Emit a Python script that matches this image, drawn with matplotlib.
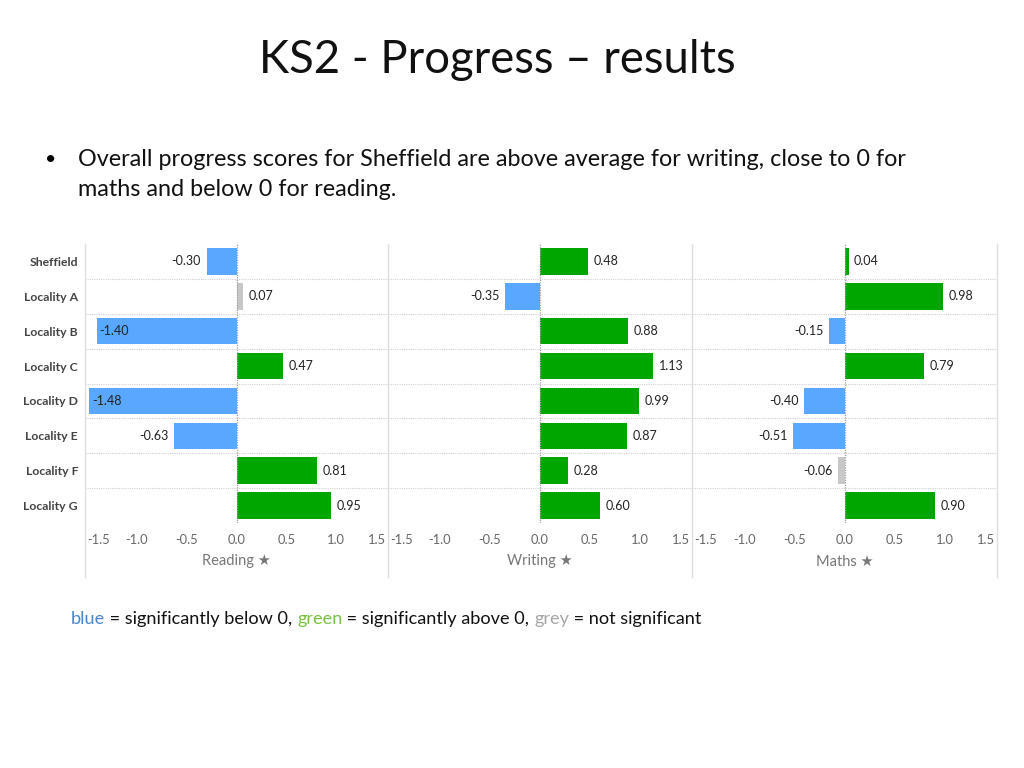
import numpy as np
import matplotlib.pyplot as plt
from matplotlib.lines import Line2D

plt.rcParams['font.family'] = ['Lato', 'DejaVu Sans']

# =============================================================================
# Data
# =============================================================================
areas = ['Sheffield', 'Locality A', 'Locality B', 'Locality C',
         'Locality D', 'Locality E', 'Locality F', 'Locality G']
subjects = ['Reading', 'Writing', 'Maths']
reading = [-0.30, 0.07, -1.40, 0.47, -1.48, -0.63, 0.81, 0.95]
writing = [0.48, -0.35, 0.88, 1.13, 0.99, 0.87, 0.28, 0.60]
maths = [0.04, 0.98, -0.15, 0.79, -0.40, -0.51, -0.06, 0.90]
# b = significantly below 0, g = significantly above 0, n = not significant
reading_sig = ['b', 'n', 'b', 'g', 'b', 'b', 'g', 'g']
writing_sig = ['g', 'b', 'g', 'g', 'g', 'g', 'g', 'g']
maths_sig = ['g', 'g', 'b', 'g', 'b', 'b', 'n', 'g']
ticks = [-1.5, -1.0, -0.5, 0.0, 0.5, 1.0, 1.5]

bar_col = {'b': '#59a7ff', 'g': '#00a600', 'n': '#c8c8c8'}

W, H = 1024, 768
fig = plt.figure(figsize=(W / 100, H / 100), dpi=100)

def fx(px):
    return px / W

def fy(py):
    return 1 - py / H

# =============================================================================
# Title and bullet text
# =============================================================================
fig.text(fx(497), fy(60), 'KS2 - Progress \u2013 results', fontsize=32.8,
         ha='center', va='center', color='#111111')
fig.text(fx(45), fy(159), '\u2022', fontsize=14, ha='left', va='center')
fig.text(fx(78), fy(159),
         'Overall progress scores for Sheffield are above average for writing, close to 0 for',
         fontsize=16.8, ha='left', va='center', color='#111111')
fig.text(fx(78), fy(189), 'maths and below 0 for reading.',
         fontsize=16.8, ha='left', va='center', color='#111111')

# =============================================================================
# Three bar panels
# =============================================================================
panels = [(reading, reading_sig), (writing, writing_sig), (maths, maths_sig)]
edges = [85, 388, 692, 997]
top, bottom = 244, 523
y = np.arange(len(areas))

for i, (vals, sig) in enumerate(panels):
    ax = fig.add_axes([fx(edges[i]), fy(bottom),
                       fx(edges[i + 1] - edges[i]), (bottom - top) / H])
    ax.barh(y, vals, height=0.76, color=[bar_col[s] for s in sig], zorder=2)
    ax.set_xlim(-1.52, 1.52)
    ax.set_ylim(len(areas) - 0.5, -0.5)
    for sp in ax.spines.values():
        sp.set_visible(False)
    # row separators and zero line
    for yy in np.arange(len(areas)) + 0.5:
        ax.axhline(yy, color='#d0d0d0', lw=0.8, ls=(0, (1, 1)), zorder=1)
    ax.axvline(0, color='#a0a0a0', lw=0.9, ls=(0, (1, 1)), zorder=3)

    for yi, v in zip(y, vals):
        if v < -1.2:
            ax.annotate(f'{v:.2f}', (v, yi), xytext=(2, 0),
                        textcoords='offset points', ha='left', va='center',
                        fontsize=9, color='#222222', zorder=4)
        elif v < 0:
            ax.annotate(f'{v:.2f}', (v, yi), xytext=(-4, 0),
                        textcoords='offset points', ha='right', va='center',
                        fontsize=9, color='#222222', zorder=4)
        else:
            ax.annotate(f'{v:.2f}', (v, yi), xytext=(4, 0),
                        textcoords='offset points', ha='left', va='center',
                        fontsize=9, color='#222222', zorder=4)

    ax.set_xticks(ticks)
    ax.set_xticklabels([f'{t:.1f}' for t in ticks])
    ax.tick_params(axis='x', length=0, pad=8, labelsize=9.3, labelcolor='#666666')
    labs = ax.get_xticklabels()
    labs[0].set_ha('left')
    labs[-1].set_ha('right')
    ax.set_xlabel(subjects[i] + ' \u2605', fontsize=10.5, color='#777777',
                  labelpad=6)

    if i == 0:
        ax.set_yticks(y)
        ax.set_yticklabels(areas, fontsize=8.8, fontweight='bold',
                           color='#444444')
        ax.tick_params(axis='y', length=0, pad=5)
    else:
        ax.set_yticks([])

# panel dividers
for e in edges:
    fig.add_artist(Line2D([fx(e), fx(e)], [fy(top), fy(577)],
                          color='#dedede', lw=1))

# =============================================================================
# Colour key below the chart
# =============================================================================
pieces = [('blue', '#4a86c8'), (' = significantly below 0, ', '#111111'),
          ('green', '#7ac143'), (' = significantly above 0, ', '#111111'),
          ('grey', '#a6a6a6'), (' = not significant', '#111111')]
fig.canvas.draw()
rend = fig.canvas.get_renderer()
xpos = 71
for txt, col in pieces:
    t = fig.text(fx(xpos), fy(619), txt, fontsize=13.1, color=col,
                 ha='left', va='center')
    bb = t.get_window_extent(renderer=rend)
    xpos += bb.width

fig.savefig('out.png', dpi=100)
